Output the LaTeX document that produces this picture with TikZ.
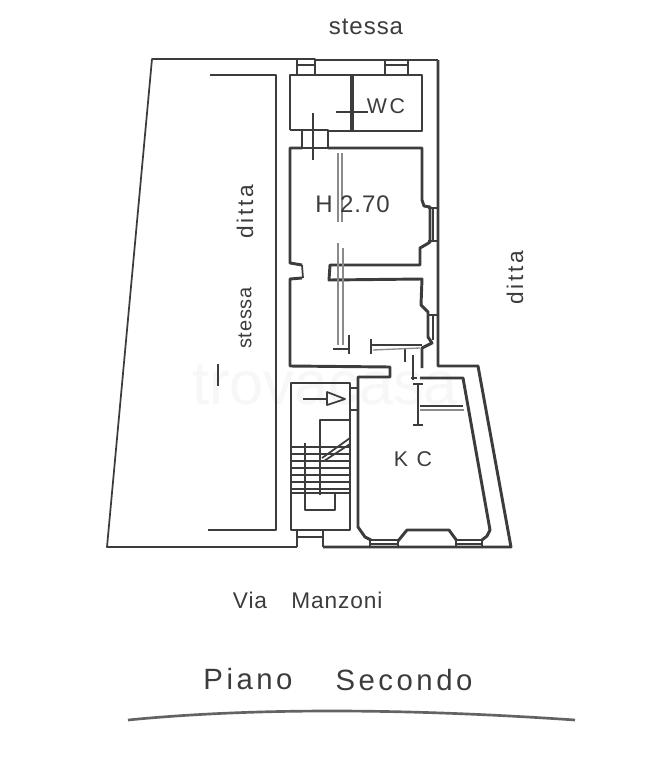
\documentclass[tikz,border=0pt]{standalone}
\usepackage{fontspec}
\setmainfont[LetterSpace=12]{Liberation Sans}
\newfontfamily\wmfont{Liberation Sans}
\newfontfamily\tightfont[LetterSpace=4]{Liberation Sans}
\definecolor{ink}{HTML}{3C3C3C}
\definecolor{soft}{HTML}{8A8A8A}
\tikzset{
 wall/.style={draw=ink,line width=2.2pt,line join=round},
 heavy wall/.style={draw=ink,line width=3pt},
 thin wall/.style={draw=ink,line width=1.3pt,line join=round},
 faint/.style={draw=soft,line width=1pt},
 mark line/.style={draw=ink,line width=1pt},
 lab/.style={text=ink,inner sep=0pt,font=\fontsize{17}{17}\selectfont},
}
\begin{document}
\begin{tikzpicture}[x=0.75pt,y=-0.75pt]
\useasboundingbox (0,0) rectangle (660,768);
\fill[white] (0,0) rectangle (660,768);
% watermark
\node[text=black!3,font=\wmfont\fontsize{46}{46}\selectfont,inner sep=0pt] (wm) at (325,385) {trovacasa};
% site outline
\draw[thin wall] (297,59) -- (152,59) -- (107,547) -- (297,547);
\draw[thin wall] (210,75) -- (276,75) -- (276,530) -- (208,530);
% outer building
\draw[thin wall] (315,60) -- (385,60);
\draw[thin wall] (408,60) -- (438,60);
\draw[wall] (438,60) -- (438,366) -- (478,366) -- (511,547) -- (323,547);
% top windows
\draw[thin wall] (297,59) rectangle (315,75);
\draw[thin wall] (297,65) -- (315,65) (385,65) -- (408,65);
\draw[thin wall] (385,60) rectangle (408,75);
% top rooms
\draw[wall] (290,130) -- (290,75) -- (422,75) -- (422,131) -- (328,131);
\draw[heavy wall] (352,75) -- (352,131);
\draw[wall] (290,130) -- (302,130);
\draw[thin wall] (302,130) rectangle (328,148);
% room H
\draw[wall] (302,148) -- (290,148) -- (290,263) -- (302,265);
\draw[wall] (328,148) -- (422,148) -- (422,200) -- (424,206) -- (430,207) -- (430,242) -- (427,244) -- (420,248) -- (420,265) -- (330,265) -- (329,280) -- (422,279) -- (421,305) -- (428,312) -- (428,337) -- (432,343) -- (422,348) -- (422,368);
\draw[thin wall] (302,265) -- (303,278);
\draw[wall] (302,278) -- (290,279) -- (290,366) -- (390,367) -- (390,377) -- (358,377) -- (358,527) -- (365,537) -- (371,540);
% side windows
\draw[thin wall] (433,208) -- (433,241) (433,315) -- (433,340);
\draw[thin wall] (428,208) -- (438,208) (428,241) -- (438,241) (428,315) -- (438,315);
% KC
\draw[wall] (420,378) -- (463,378) -- (490,530) -- (487,536) -- (482,540);
\draw[wall] (398,541) -- (407,530) -- (449,530) -- (457,541);
\draw[thin wall] (370,540) rectangle (398,547);
\draw[thin wall] (456,540) rectangle (482,547);
\draw[thin wall] (371,544) -- (397,544) (457,544) -- (481,544);
% stair block
\draw[thin wall] (291,383) rectangle (350,530);
\draw[thin wall] (350,388) -- (358,388) (350,410) -- (358,410);
\draw[thin wall] (297,530) -- (297,547) (323,530) -- (323,547) (297,537) -- (323,537);
\draw[thin wall] (320,495) -- (320,420) -- (350,420);
\draw[thin wall] (305,443) -- (305,510) -- (335,510) -- (335,494);
\foreach \yy in {447,454,461,468,475,482,489,493}{\draw[draw=ink,line width=1.6pt] (292,\yy) -- (350,\yy);}
\draw[thin wall] (322,458) -- (350,438) (324,461) -- (350,444);
\draw[mark line] (303,399) -- (327,399);
\draw[thin wall] (327,392) -- (345,399) -- (327,405) -- cycle;
% door marks
\draw[mark line] (336,112) -- (368,112);
\draw[mark line] (313,113) -- (313,160) (302,148) -- (328,148);
\draw[faint] (338,153) -- (338,222) (342,153) -- (342,222);
\draw[faint] (338,243) -- (338,345) (343,248) -- (343,345);
\draw[mark line] (333,349) -- (350,349) (349,335) -- (349,354);
\draw[mark line] (371,345) -- (422,345) (371,339) -- (371,354) (405,348) -- (405,362);
\draw[faint] (373,350) -- (420,348);
\draw[mark line] (413,355) -- (413,380) (411,378) -- (417,378);
\draw[mark line] (418,384) -- (418,425) (413,384) -- (423,384) (413,425) -- (423,425);
\draw[mark line] (420,406) -- (463,406);
\draw[faint] (420,410) -- (464,410);
% tick
\draw[mark line] (218,364) -- (218,386);
% labels
\node[lab,font=\tightfont\fontsize{18}{18}\selectfont] (t1) at (366,27) {stessa};
\node[lab,rotate=90] (t2) at (245,212) {ditta};
\node[lab,rotate=90,font=\tightfont\fontsize{15}{15}\selectfont] (t3) at (245,318) {stessa};
\node[lab,rotate=90] (t4) at (515,278) {ditta};
\node[lab,font=\tightfont\fontsize{17}{17}\selectfont] (t5a) at (250,600) {Via};
\node[lab,font=\tightfont\fontsize{17}{17}\selectfont] (t5b) at (337,600) {Manzoni};
\node[lab,font=\fontsize{22}{22}\selectfont] (t6a) at (248,679) {Piano};
\node[lab,font=\fontsize{22}{22}\selectfont] (t6b) at (404,680) {Secondo};
\node[lab,font=\fontsize{18}{18}\selectfont] (t7a) at (324,204) {H};
\node[lab,font=\tightfont\fontsize{18}{18}\selectfont] (t7b) at (365,204) {2.70};
\node[lab,font=\fontsize{16}{16}\selectfont] (t8) at (386,106) {WC};
\node[lab,font=\fontsize{16}{16}\selectfont] (t9) at (413,459) {K C};
% rule
\draw[draw=ink!80,line width=2pt] (128,720) .. controls (250,708) and (400,708) .. (575,720);
\end{tikzpicture}
\end{document}
